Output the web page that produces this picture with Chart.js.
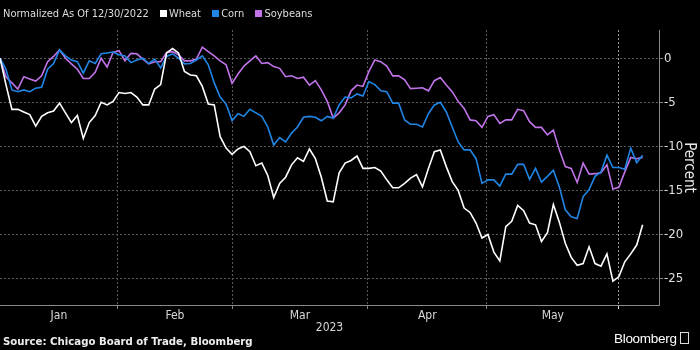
<!DOCTYPE html>
<html>
<head>
<meta charset="utf-8">
<script src="https://cdn.jsdelivr.net/npm/chart.js@4.4.0/dist/chart.umd.min.js"></script>
<style>
  html, body { margin: 0; padding: 0; background: #000; }
  #wrap { position: relative; width: 700px; height: 350px; overflow: hidden;
    font-family: "Liberation Sans Narrow", "DejaVu Sans Condensed", sans-serif; color: #ddd; }
  #chart { position: absolute; left: 0; top: 0; }
  .legend { position: absolute; left: 3px; top: 7px; font-size: 11px; white-space: nowrap; }
  .legend .sw { display: inline-block; width: 7px; height: 7px; margin: 0 2px 0 8px; }
  .source { position: absolute; left: 3px; top: 335px; font-size: 11.3px; font-weight: bold; color: #eee; }
  .brand { position: absolute; left: 614px; top: 331px; font-family: "Liberation Sans", Arial, sans-serif;
    font-size: 13.5px; color: #fff; letter-spacing: -0.3px; }
  .brand .ic { display: inline-block; width: 7px; height: 10px; border: 1px solid #ddd; margin-left: 3px; vertical-align: -1px; }
</style>
</head>
<body>
<div id="wrap">
  <canvas id="chart" width="700" height="350"></canvas>
  <div class="legend">Normalized As Of 12/30/2022
    <span class="sw" style="background:#ffffff"></span>Wheat
    <span class="sw" style="background:#1f86e6"></span>Corn
    <span class="sw" style="background:#c173ea"></span>Soybeans</div>
  <div class="source">Source: Chicago Board of Trade, Bloomberg</div>
  <div class="brand">Bloomberg<span class="ic"></span></div>
</div>
<script>
// trading days since 12/30/2022, percent change
const wheat = [0, -3.0, -5.8, -5.8, -6.1, -6.4, -7.7, -6.6, -6.2, -6.0,
  -5.1, -6.2, -7.3, -6.5, -9.1, -7.3, -6.5, -5.0, -5.3, -4.9,
  -3.9, -4.0, -3.9, -4.4, -5.3, -5.3, -3.5, -3.0, 0.6, 1.1,
  0.6, -1.5, -1.9, -2.0, -3.2, -5.2, -5.3, -8.9, -10.2, -10.9,
  -10.3, -10.0, -10.6, -12.2, -11.9, -13.3, -15.8, -14.2, -13.5, -12.1,
  -11.3, -11.7, -10.3, -11.4, -13.5, -16.2, -16.3, -13.0, -11.9, -11.6,
  -11.1, -12.5, -12.5, -12.4, -12.8, -13.8, -14.7, -14.7, -14.2, -13.6,
  -13.2, -14.6, -12.5, -10.6, -10.4, -12.3, -14.0, -15.0, -17.0, -17.5,
  -18.7, -20.4, -20.0, -22.0, -23.0, -19.1, -18.5, -16.7, -17.3, -18.7,
  -18.9, -20.8, -19.8, -16.6, -18.6, -21.0, -22.6, -23.5, -23.3, -21.4,
  -23.3, -23.6, -22.2, -25.3, -24.8, -23.1, -22.2, -21.2, -18.9];

const corn = [0, -1.25, -3.6, -3.8, -3.6, -3.8, -3.4, -3.3, -1.25, -0.6,
  0.95, 0.26, -0.2, -0.4, -1.7, -0.3, -0.6, 0.5, 0.6, 0.7,
  0.4, 0.26, -0.5, -0.2, 0, -0.6, -0.1, -1.1, 0.2, 0.5,
  0, -0.65, -0.6, -0.2, 0.26, -0.75, -2.8, -4.4, -5.2, -7.1,
  -6.3, -6.6, -5.8, -6.2, -6.6, -7.8, -9.85, -9.0, -9.5, -8.5,
  -7.8, -6.7, -6.6, -6.7, -7.1, -6.6, -6.8, -5.3, -4.4, -4.5,
  -4.05, -4.3, -2.65, -3.0, -3.7, -3.8, -5.1, -5.1, -7.0, -7.5,
  -7.5, -7.8, -6.3, -5.3, -5.0, -6.1, -7.8, -9.5, -10.4, -10.4,
  -11.4, -14.2, -13.8, -13.8, -14.5, -13.15, -13.15, -12.05, -12.05, -13.75,
  -12.5, -14.05, -13.4, -12.7, -14.6, -17.2, -18.0, -18.2, -15.7, -14.9,
  -13.4, -12.9, -11.0, -12.4, -12.4, -12.6, -10.2, -11.85, -11.0];

const soybeans = [0, -2.1, -2.8, -3.5, -2.1, -2.35, -2.6, -2.0, -0.4, 0.2,
  0.95, 0, -0.65, -1.25, -2.3, -2.3, -1.6, 0, -1.0, 0.65,
  0.85, -0.3, 0.55, 0.5, -0.1, -0.65, -0.4, -0.4, 0.65, 0.75,
  0.4, -0.3, -0.3, -0.1, 1.25, 0.75, 0.26, -0.3, -0.75, -2.85,
  -1.8, -0.9, -0.3, 0.26, -0.6, -0.5, -0.95, -1.15, -2.1, -2.0,
  -2.3, -2.15, -3.05, -2.55, -3.6, -4.9, -6.8, -6.2, -5.3, -3.7,
  -3.05, -3.2, -1.5, -0.2, -0.4, -0.9, -2.0, -2.0, -2.45, -3.45,
  -3.4, -3.35, -3.7, -2.55, -2.2, -3.05, -3.8, -4.9, -5.7, -7.0,
  -7.1, -7.85, -6.6, -6.4, -7.4, -7.0, -7.0, -5.8, -5.95, -7.2,
  -7.85, -7.85, -8.7, -8.15, -10.4, -12.3, -12.5, -14.1, -11.9, -13.15,
  -13.1, -13.0, -12.1, -14.85, -14.65, -12.9, -11.25, -11.4, -11.25];

// month boundaries, in trading-day units
const monthStarts = [0, 19.8, 39.0, 61.8, 81.8, 104.0];
const monthNames = ['Jan', 'Feb', 'Mar', 'Apr', 'May'];
const yTicks = [0, -5, -10, -15, -20, -25];

const xEnd = 110.75;
const gridColor = '#5a5a5a';

const boundaries = monthStarts.slice(1);
const midpoints = monthNames.map((m, i) => (monthStarts[i] + monthStarts[i + 1]) / 2);

function toPoints(arr) {
  return arr.map((v, i) => ({ x: i, y: v }));
}

Chart.defaults.font.family = '"Liberation Sans Narrow", "DejaVu Sans Condensed", sans-serif';
Chart.defaults.color = '#d8d8d8';

new Chart(document.getElementById('chart'), {
  type: 'line',
  data: {
    datasets: [
      { label: 'Wheat', data: toPoints(wheat), borderColor: '#ffffff', order: 0 },
      { label: 'Corn', data: toPoints(corn), borderColor: '#1f86e6', order: 1 },
      { label: 'Soybeans', data: toPoints(soybeans), borderColor: '#c173ea', order: 2 }
    ]
  },
  options: {
    responsive: false,
    animation: false,
    layout: { padding: { top: 30, bottom: 15, left: 0, right: 0 } },
    elements: {
      line: { borderWidth: 1.6, tension: 0 },
      point: { radius: 0 }
    },
    plugins: { legend: { display: false }, tooltip: { enabled: false } },
    scales: {
      x: {
        type: 'linear',
        min: 0,
        max: xEnd,
        afterBuildTicks: scale => {
          scale.ticks = boundaries.concat(midpoints).sort((a, b) => a - b).map(v => ({ value: v }));
        },
        afterFit: scale => { scale.height = 30; },
        ticks: {
          autoSkip: false,
          maxRotation: 0,
          padding: 0,
          font: { size: 12 },
          callback: value => {
            const k = midpoints.indexOf(value);
            return k >= 0 ? monthNames[k] : '';
          }
        },
        grid: {
          color: ctx => boundaries.includes(ctx.tick.value) ? (ctx.tick.value === 104.0 ? '#9a9a9a' : gridColor) : 'transparent',
          tickColor: ctx => boundaries.includes(ctx.tick.value) ? (ctx.tick.value === 104.0 ? '#dddddd' : '#888') : 'transparent',
          tickLength: 4,
          lineWidth: 1
        },
        border: { color: '#8a8a8a', width: 1, dash: [2, 2] },
        title: { display: true, text: '2023', font: { size: 12 }, padding: 0, color: '#d8d8d8' }
      },
      y: {
        position: 'right',
        min: -28,
        max: 3.2,
        afterBuildTicks: scale => {
          scale.ticks = yTicks.map(v => ({ value: v }));
        },
        afterFit: scale => { scale.width = 41; },
        ticks: { padding: 1, font: { size: 13 }, color: '#e0e0e0' },
        grid: { color: gridColor, tickColor: '#888', tickLength: 4, lineWidth: 1 },
        border: { color: '#8a8a8a', width: 1, dash: [2, 2] },
        title: { display: true, text: 'Percent', font: { size: 15 }, padding: 2, color: '#e8e8e8' }
      }
    }
  }
});
</script>
</body>
</html>
